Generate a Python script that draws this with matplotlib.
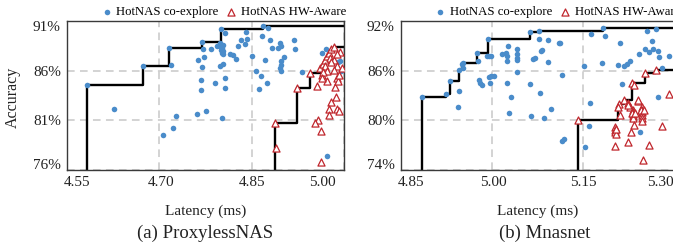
import matplotlib
matplotlib.use("Agg")
import matplotlib.pyplot as plt
import matplotlib.transforms as mtransforms
import numpy as np

plt.rcParams["font.family"] = ["Liberation Serif", "DejaVu Serif"]

# ProxylessNAS panel
prox_co_lat = [4.582, 4.627, 4.673, 4.716, 4.719, 4.706, 4.723, 4.727, 4.762, 4.776,
               4.801, 4.769, 4.771, 4.773, 4.763, 4.770, 4.767, 4.768, 4.790, 4.807,
               4.807, 4.799, 4.804, 4.784, 4.793, 4.799, 4.802, 4.800, 4.803, 4.801,
               4.804, 4.799, 4.803, 4.800, 4.807, 4.815, 4.819, 4.825, 4.827, 4.832,
               4.839, 4.842, 4.841, 4.851, 4.857, 4.865, 4.862, 4.875, 4.869, 4.877,
               4.866, 4.871, 4.880, 4.883, 4.893, 4.896, 4.898, 4.898, 4.898, 4.896,
               4.898, 4.903, 4.918, 4.920, 4.931, 4.965, 4.971, 4.991, 4.994, 4.995,
               4.972]
prox_co_acc = [84.57, 82.15, 86.44, 88.32, 86.61, 79.57, 80.21, 81.41, 81.68, 81.95,
               81.28, 88.93, 88.14, 87.36, 87.12, 86.34, 85.08, 84.06, 84.75, 85.25,
               84.23, 86.51, 86.68, 88.14, 88.48, 88.45, 88.24, 88.04, 87.94, 87.79,
               87.63, 88.76, 88.60, 90.18, 89.78, 87.70, 87.56, 87.22, 88.48, 89.06,
               88.65, 89.16, 89.85, 87.46, 86.00, 85.49, 84.16, 84.74, 90.52, 90.29,
               89.50, 87.12, 89.09, 88.32, 88.32, 88.83, 88.48, 86.95, 86.61, 86.28,
               85.93, 87.40, 89.06, 88.21, 85.83, 87.81, 88.14, 86.85, 86.95, 85.93,
               77.38]
prox_hw_lat = [4.888, 4.890, 4.924, 4.945, 4.956, 4.957, 4.953, 4.963, 4.963, 4.973,
               4.964, 4.961, 4.966, 4.969, 4.972, 4.975, 4.979, 4.983, 4.969, 4.973,
               4.977, 4.983, 4.988, 4.996, 4.986, 4.988, 4.991, 4.987, 4.979, 4.976,
               4.988, 4.975, 4.992, 4.994, 4.989, 4.966, 4.979, 4.984, 4.964, 4.992]
prox_hw_acc = [80.72, 78.17, 84.30, 85.77, 84.50, 81.00, 80.72, 79.88, 76.85, 85.01,
               85.59, 86.31, 86.64, 87.12, 87.46, 87.81, 88.14, 88.42, 86.44, 85.93,
               87.30, 87.12, 86.44, 86.28, 84.40, 85.26, 84.91, 83.38, 82.87, 82.19,
               82.19, 81.51, 81.95, 87.87, 87.63, 85.90, 86.92, 86.10, 85.29, 85.59]

# Mnasnet panel
mnas_co_lat = [4.885, 4.924, 4.930, 4.946, 4.946, 4.944, 4.950, 4.953, 4.953, 4.976,
               4.977, 4.979, 4.980, 4.983, 4.991, 4.995, 4.994, 4.997, 4.995, 4.999,
               5.004, 5.016, 5.023, 5.024, 5.025, 5.025, 5.027, 5.028, 5.031, 5.041,
               5.042, 5.042, 5.042, 5.042, 5.063, 5.063, 5.064, 5.067, 5.071, 5.077,
               5.078, 5.079, 5.081, 5.083, 5.085, 5.093, 5.093, 5.098, 5.110, 5.112,
               5.115, 5.115, 5.118, 5.152, 5.153, 5.160, 5.161, 5.163, 5.181, 5.186,
               5.183, 5.208, 5.211, 5.215, 5.218, 5.222, 5.227, 5.242, 5.244, 5.252,
               5.255, 5.258, 5.263, 5.266, 5.270, 5.273, 5.275, 5.273, 5.280, 5.292,
               4.999]
mnas_co_acc = [82.85, 83.18, 84.78, 86.12, 83.59, 81.63, 86.86, 86.33, 86.98, 88.17,
               87.14, 84.90, 84.57, 84.29, 87.75, 87.75, 89.88, 84.49, 85.23, 85.30,
               85.30, 87.96, 88.17, 87.14, 87.75, 84.57, 88.98, 80.89, 82.78, 88.57,
               87.96, 87.56, 87.26, 85.79, 90.62, 84.41, 80.49, 87.43, 87.56, 90.81,
               89.88, 83.34, 88.36, 88.49, 80.33, 89.71, 87.02, 81.31, 89.31, 89.39,
               85.51, 77.55, 77.76, 86.61, 76.73, 79.27, 82.04, 90.41, 86.94, 90.20,
               91.10, 86.73, 89.39, 84.41, 86.53, 86.86, 87.14, 87.96, 78.57, 88.57,
               90.74, 88.24, 89.59, 88.57, 91.05, 88.36, 87.68, 82.85, 86.33, 87.75,
               87.75]
mnas_hw_lat = [5.141, 5.210, 5.218, 5.230, 5.252, 5.270, 5.211, 5.203, 5.203, 5.203,
               5.204, 5.205, 5.202, 5.208, 5.225, 5.227, 5.241, 5.233, 5.233, 5.233,
               5.233, 5.233, 5.230, 5.236, 5.248, 5.248, 5.248, 5.248, 5.248, 5.248,
               5.246, 5.250, 5.234, 5.229, 5.225, 5.258, 5.249, 5.281, 5.292, 5.234,
               5.225, 5.240]
mnas_hw_acc = [80.00, 81.92, 82.45, 84.57, 85.72, 86.12, 80.61, 79.18, 78.86, 78.57,
               78.29, 78.98, 76.85, 81.63, 82.12, 81.63, 82.37, 81.22, 80.98, 80.73,
               80.49, 80.24, 80.86, 80.86, 81.63, 81.29, 80.98, 80.61, 80.24, 79.91,
               81.22, 81.22, 79.39, 78.57, 77.34, 77.06, 75.22, 79.27, 83.18, 84.29,
               81.84, 82.45]

prox_xticks = [4.55, 4.70, 4.85, 5.00]
prox_yticks = [76, 81, 86, 91]
mnas_xticks = [4.85, 5.00, 5.15, 5.30]
mnas_yticks = [74, 80, 86, 92]

BLUE = "#4a8cca"
RED = "#c0272d"


def pareto(lat, acc):
    lat = np.asarray(lat)
    acc = np.asarray(acc)
    xs, ys = [], []
    best = -np.inf
    for i in np.argsort(lat, kind="stable"):
        if acc[i] > best:
            xs.append(lat[i])
            ys.append(acc[i])
            best = acc[i]
    return xs, ys


def draw_front(ax, lat, acc, xmax, ymin):
    xs, ys = pareto(lat, acc)
    ax.plot([xs[0]] + xs + [xmax], [ymin] + ys + [ys[-1]],
            drawstyle="steps-post", color="black", lw=1.7, zorder=2)


def shift(labels, offsets, fig, axis="x"):
    for lab, d in zip(labels, offsets):
        if axis == "x":
            off = mtransforms.ScaledTranslation(d / 100, 0, fig.dpi_scale_trans)
        else:
            off = mtransforms.ScaledTranslation(0, d / 100, fig.dpi_scale_trans)
        lab.set_transform(lab.get_transform() + off)


def panel(ax, co_lat, co_acc, hw_lat, hw_acc, xticks, yticks, xoff, yoff, fig):
    xmin, xmax = xticks[0], xticks[-1]
    ymin, ymax = yticks[0], yticks[-1]
    ax.set_xlim(xmin, xmax)
    ax.set_ylim(ymin, ymax)

    draw_front(ax, co_lat, co_acc, xmax, ymin)
    draw_front(ax, hw_lat, hw_acc, xmax, ymin)

    ax.scatter(co_lat, co_acc, s=16, color=BLUE, linewidths=0, zorder=3,
               label="HotNAS co-explore")
    ax.scatter(hw_lat, hw_acc, s=26, marker="^", facecolors="white",
               edgecolors=RED, linewidths=0.9, zorder=3, label="HotNAS HW-Aware")

    ax.set_xticks(xticks)
    ax.set_xticklabels([f"{t:.2f}" for t in xticks])
    ax.set_yticks(yticks)
    ax.set_yticklabels([f"{t}%" for t in yticks])
    ax.tick_params(length=0, labelsize=11, pad=4.5, colors="#222222")
    ax.grid(True, color="#c8c8c8", ls=(0, (5, 3.5)), lw=1.1)
    ax.set_axisbelow(True)
    for sp in ax.spines.values():
        sp.set_color("#3a3a3a")
        sp.set_linewidth(1.0)

    shift(ax.get_xticklabels(), xoff, fig, "x")
    shift(ax.get_yticklabels(), yoff, fig, "y")

    ax.set_xlabel("Latency (ms)", fontsize=11, color="#222222")
    ax.xaxis.set_label_coords(0.5, -0.235)

    ax.legend(loc="center left", bbox_to_anchor=(0.125, 1.06), ncol=2,
              frameon=False, fontsize=9.2, handlelength=0.8, handletextpad=0.35,
              columnspacing=0.6, borderpad=0, borderaxespad=0, scatterpoints=1)


fig = plt.figure(figsize=(6.73, 2.48), dpi=100)
ax1 = fig.add_axes([67 / 673, 78 / 248, 277 / 673, 149 / 248])
ax2 = fig.add_axes([401 / 673, 78 / 248, 273 / 673, 149 / 248])

panel(ax1, prox_co_lat, prox_co_acc, prox_hw_lat, prox_hw_acc,
      prox_xticks, prox_yticks, [10, 2, 0, -22], [6, 0, 0, -5], fig)
panel(ax2, mnas_co_lat, mnas_co_acc, mnas_hw_lat, mnas_hw_acc,
      mnas_xticks, mnas_yticks, [10, 1, 0, -14], [6, 0, 0, -5], fig)
ax2.spines["right"].set_visible(False)

ax1.set_ylabel("Accuracy", fontsize=11.5, color="#222222")
ax1.yaxis.set_label_coords(-0.165, 0.49)

fig.text(205 / 673, 1 - 233 / 248, "(a) ProxylessNAS", ha="center", va="center",
         fontsize=13.5, color="#222222")
fig.text(545 / 673, 1 - 233 / 248, "(b) Mnasnet", ha="center", va="center",
         fontsize=13.5, color="#222222")

fig.savefig("out.png", dpi=100)
